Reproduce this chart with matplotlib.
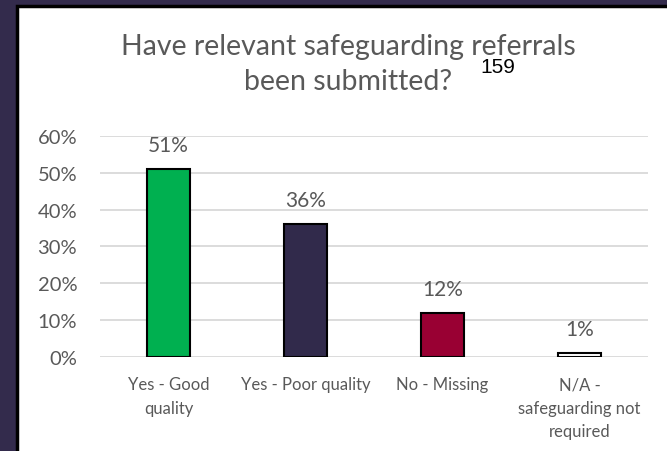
import matplotlib
matplotlib.use("Agg")
from matplotlib import pyplot as plt
from matplotlib.patches import Rectangle

categories = ["Yes - Good\nquality", "Yes - Poor quality", "No - Missing", "N/A -\nsafeguarding not\nrequired"]
values = [0.51, 0.36, 0.12, 0.01]
labels = ["51%", "36%", "12%", "1%"]
colors = ["#00B050", "#312A4B", "#990033", "#FFFFFF"]
yticks = [0, 0.1, 0.2, 0.3, 0.4, 0.5, 0.6]

plt.rcParams['font.family'] = ['Lato', 'DejaVu Sans']
grey = "#595959"

fig = plt.figure(figsize=(6.67, 4.52), dpi=100)
fig.patch.set_facecolor("#332B4C")

# white panel with black edge, behind everything
fig.patches.append(Rectangle((0.0255, -0.05), 1.05, 1.0345, transform=fig.transFigure,
                             facecolor="white", edgecolor="black", linewidth=2.5, zorder=-10))

ax = fig.add_axes([0.15, 0.208, 0.8215, 0.489])
ax.set_facecolor("none")
x = range(len(categories))
ax.bar(x, values, width=0.32, color=colors, edgecolor="black", linewidth=1.5, zorder=3)
for xi, v, lab in zip(x, values, labels):
    ax.text(xi, v + 0.065, lab, ha="center", va="center", fontsize=15, color=grey)

ax.set_ylim(0, 0.6)
ax.set_xlim(-0.5, 3.5)
ax.set_yticks(yticks)
ax.set_yticklabels(["{:.0f}%".format(t * 100) for t in yticks], fontsize=14.5, color=grey)
ax.set_xticks(list(x))
ax.set_xticklabels(categories, fontsize=12, color=grey, linespacing=1.55)
ax.tick_params(axis="y", length=0, pad=16.5)
ax.tick_params(axis="x", length=0, pad=14)
ax.yaxis.grid(True, color="#D9D9D9", linewidth=1.3, zorder=0)
for s in ax.spines.values():
    s.set_visible(False)

fig.text(0.5225, 0.857, "Have relevant safeguarding referrals\nbeen submitted?", ha="center", va="center",
         fontsize=20.5, color=grey, linespacing=1.42)
fig.text(0.7466, 0.851, "159", ha="center", va="center", fontsize=15, color="black",
         family="Liberation Sans")

plt.savefig("out.png", dpi=100, facecolor=fig.get_facecolor())
